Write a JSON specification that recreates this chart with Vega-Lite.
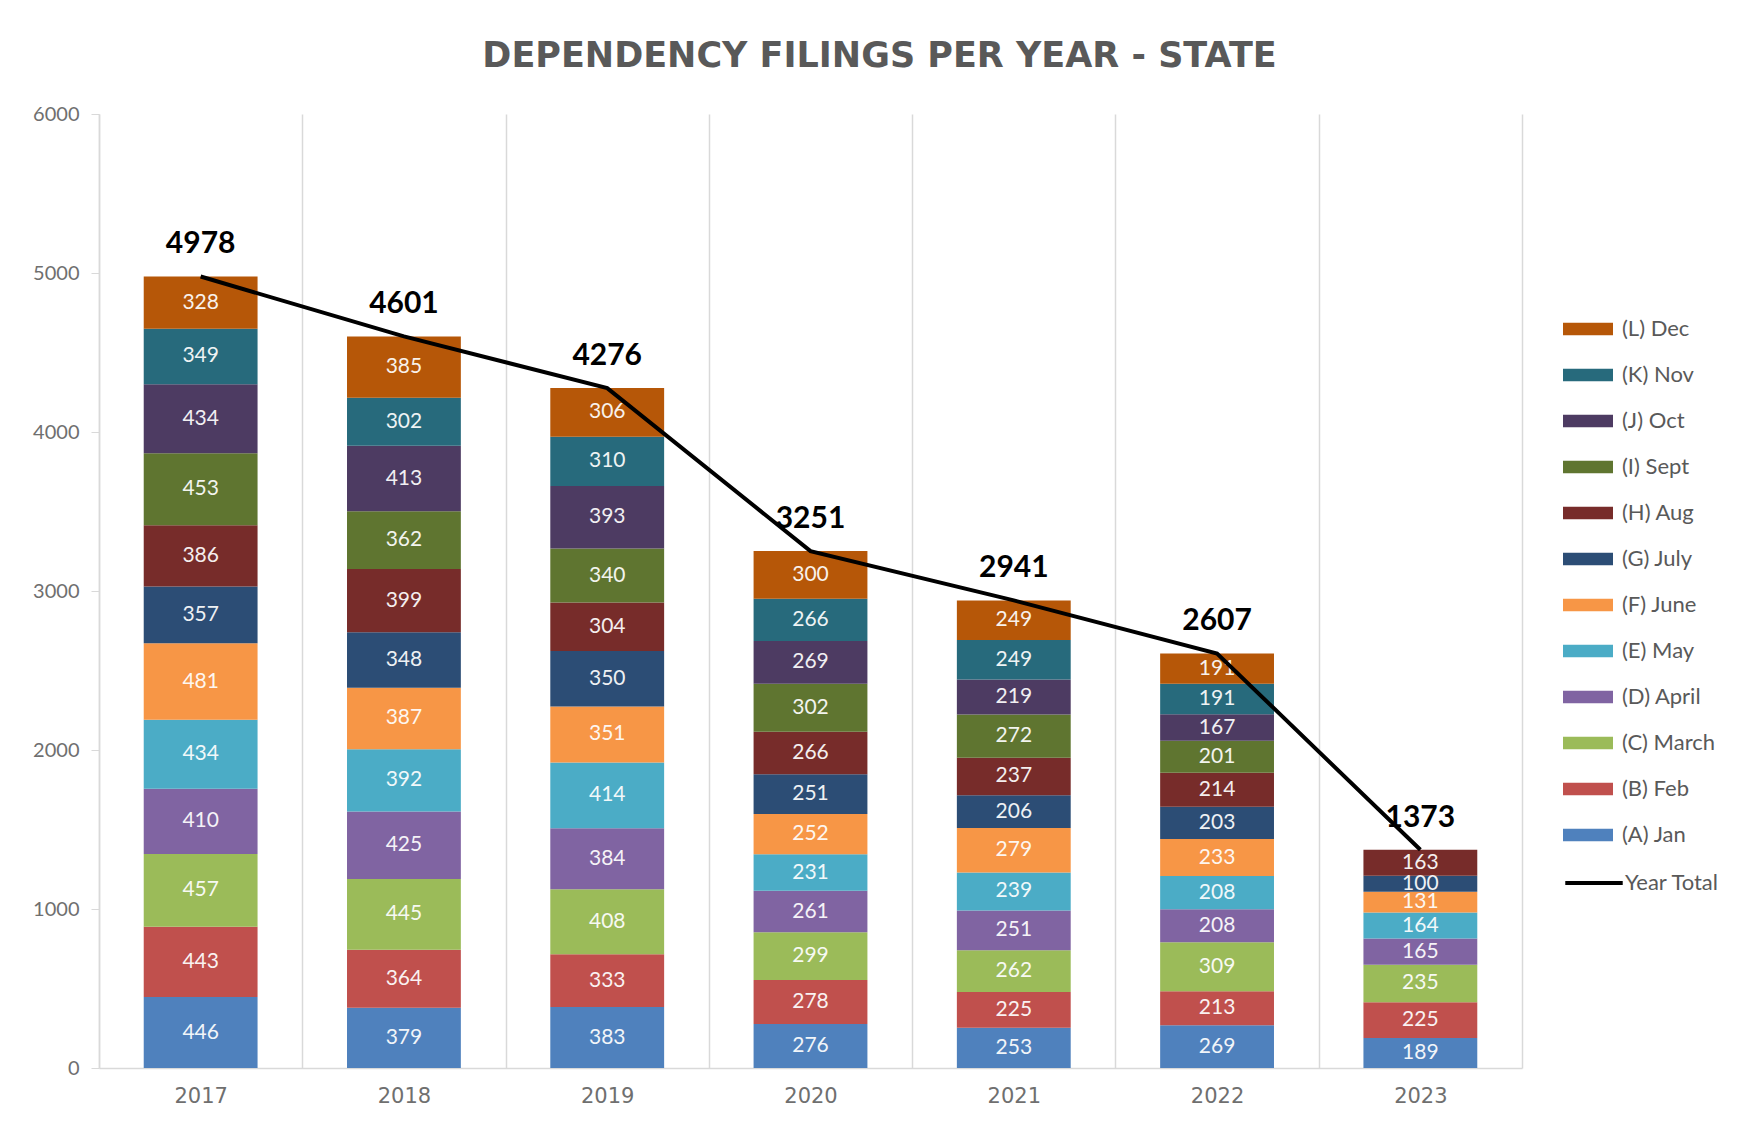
{
  "$schema": "https://vega.github.io/schema/vega-lite/v6.json",
  "autosize": "none",
  "width": 1423,
  "height": 954,
  "padding": {"left": 99, "top": 114, "right": 235, "bottom": 56},
  "background": "white",
  "config": {
    "font": "Lato",
    "view": {"stroke": null},
    "axis": {"labelColor": "#6f6f6f", "domainColor": "#d9d9d9", "gridColor": "#d9d9d9", "tickColor": "#d9d9d9"}
  },
  "title": {
    "text": "DEPENDENCY FILINGS PER YEAR -  STATE",
    "fontSize": 35,
    "fontWeight": "bold",
    "color": "#595959",
    "font": "DejaVu Sans",
    "anchor": "middle",
    "dx": 69,
    "offset": 30
  },
  "datasets": {
    "months": [
      {"year": "2017", "m": 1, "month": "(A) Jan", "value": 446},
      {"year": "2017", "m": 2, "month": "(B) Feb", "value": 443},
      {"year": "2017", "m": 3, "month": "(C) March", "value": 457},
      {"year": "2017", "m": 4, "month": "(D) April", "value": 410},
      {"year": "2017", "m": 5, "month": "(E) May", "value": 434},
      {"year": "2017", "m": 6, "month": "(F) June", "value": 481},
      {"year": "2017", "m": 7, "month": "(G) July", "value": 357},
      {"year": "2017", "m": 8, "month": "(H) Aug", "value": 386},
      {"year": "2017", "m": 9, "month": "(I) Sept", "value": 453},
      {"year": "2017", "m": 10, "month": "(J) Oct", "value": 434},
      {"year": "2017", "m": 11, "month": "(K) Nov", "value": 349},
      {"year": "2017", "m": 12, "month": "(L) Dec", "value": 328},
      {"year": "2018", "m": 1, "month": "(A) Jan", "value": 379},
      {"year": "2018", "m": 2, "month": "(B) Feb", "value": 364},
      {"year": "2018", "m": 3, "month": "(C) March", "value": 445},
      {"year": "2018", "m": 4, "month": "(D) April", "value": 425},
      {"year": "2018", "m": 5, "month": "(E) May", "value": 392},
      {"year": "2018", "m": 6, "month": "(F) June", "value": 387},
      {"year": "2018", "m": 7, "month": "(G) July", "value": 348},
      {"year": "2018", "m": 8, "month": "(H) Aug", "value": 399},
      {"year": "2018", "m": 9, "month": "(I) Sept", "value": 362},
      {"year": "2018", "m": 10, "month": "(J) Oct", "value": 413},
      {"year": "2018", "m": 11, "month": "(K) Nov", "value": 302},
      {"year": "2018", "m": 12, "month": "(L) Dec", "value": 385},
      {"year": "2019", "m": 1, "month": "(A) Jan", "value": 383},
      {"year": "2019", "m": 2, "month": "(B) Feb", "value": 333},
      {"year": "2019", "m": 3, "month": "(C) March", "value": 408},
      {"year": "2019", "m": 4, "month": "(D) April", "value": 384},
      {"year": "2019", "m": 5, "month": "(E) May", "value": 414},
      {"year": "2019", "m": 6, "month": "(F) June", "value": 351},
      {"year": "2019", "m": 7, "month": "(G) July", "value": 350},
      {"year": "2019", "m": 8, "month": "(H) Aug", "value": 304},
      {"year": "2019", "m": 9, "month": "(I) Sept", "value": 340},
      {"year": "2019", "m": 10, "month": "(J) Oct", "value": 393},
      {"year": "2019", "m": 11, "month": "(K) Nov", "value": 310},
      {"year": "2019", "m": 12, "month": "(L) Dec", "value": 306},
      {"year": "2020", "m": 1, "month": "(A) Jan", "value": 276},
      {"year": "2020", "m": 2, "month": "(B) Feb", "value": 278},
      {"year": "2020", "m": 3, "month": "(C) March", "value": 299},
      {"year": "2020", "m": 4, "month": "(D) April", "value": 261},
      {"year": "2020", "m": 5, "month": "(E) May", "value": 231},
      {"year": "2020", "m": 6, "month": "(F) June", "value": 252},
      {"year": "2020", "m": 7, "month": "(G) July", "value": 251},
      {"year": "2020", "m": 8, "month": "(H) Aug", "value": 266},
      {"year": "2020", "m": 9, "month": "(I) Sept", "value": 302},
      {"year": "2020", "m": 10, "month": "(J) Oct", "value": 269},
      {"year": "2020", "m": 11, "month": "(K) Nov", "value": 266},
      {"year": "2020", "m": 12, "month": "(L) Dec", "value": 300},
      {"year": "2021", "m": 1, "month": "(A) Jan", "value": 253},
      {"year": "2021", "m": 2, "month": "(B) Feb", "value": 225},
      {"year": "2021", "m": 3, "month": "(C) March", "value": 262},
      {"year": "2021", "m": 4, "month": "(D) April", "value": 251},
      {"year": "2021", "m": 5, "month": "(E) May", "value": 239},
      {"year": "2021", "m": 6, "month": "(F) June", "value": 279},
      {"year": "2021", "m": 7, "month": "(G) July", "value": 206},
      {"year": "2021", "m": 8, "month": "(H) Aug", "value": 237},
      {"year": "2021", "m": 9, "month": "(I) Sept", "value": 272},
      {"year": "2021", "m": 10, "month": "(J) Oct", "value": 219},
      {"year": "2021", "m": 11, "month": "(K) Nov", "value": 249},
      {"year": "2021", "m": 12, "month": "(L) Dec", "value": 249},
      {"year": "2022", "m": 1, "month": "(A) Jan", "value": 269},
      {"year": "2022", "m": 2, "month": "(B) Feb", "value": 213},
      {"year": "2022", "m": 3, "month": "(C) March", "value": 309},
      {"year": "2022", "m": 4, "month": "(D) April", "value": 208},
      {"year": "2022", "m": 5, "month": "(E) May", "value": 208},
      {"year": "2022", "m": 6, "month": "(F) June", "value": 233},
      {"year": "2022", "m": 7, "month": "(G) July", "value": 203},
      {"year": "2022", "m": 8, "month": "(H) Aug", "value": 214},
      {"year": "2022", "m": 9, "month": "(I) Sept", "value": 201},
      {"year": "2022", "m": 10, "month": "(J) Oct", "value": 167},
      {"year": "2022", "m": 11, "month": "(K) Nov", "value": 191},
      {"year": "2022", "m": 12, "month": "(L) Dec", "value": 191},
      {"year": "2023", "m": 1, "month": "(A) Jan", "value": 189},
      {"year": "2023", "m": 2, "month": "(B) Feb", "value": 225},
      {"year": "2023", "m": 3, "month": "(C) March", "value": 235},
      {"year": "2023", "m": 4, "month": "(D) April", "value": 165},
      {"year": "2023", "m": 5, "month": "(E) May", "value": 164},
      {"year": "2023", "m": 6, "month": "(F) June", "value": 131},
      {"year": "2023", "m": 7, "month": "(G) July", "value": 100},
      {"year": "2023", "m": 8, "month": "(H) Aug", "value": 163}
    ],
    "totals": [
      {"year": "2017", "total": 4978},
      {"year": "2018", "total": 4601},
      {"year": "2019", "total": 4276},
      {"year": "2020", "total": 3251},
      {"year": "2021", "total": 2941},
      {"year": "2022", "total": 2607},
      {"year": "2023", "total": 1373}
    ]
  },
  "encoding": {
    "x": {
      "field": "year",
      "type": "nominal",
      "sort": null,
      "scale": {"paddingInner": 0, "paddingOuter": 0},
      "axis": {
        "title": null,
        "labelAngle": 0,
        "labelFont": "DejaVu Sans",
        "labelFontSize": 21,
        "labelPadding": 17,
        "ticks": false,
        "grid": true,
        "tickBand": "extent",
        "gridColor": "#d9d9d9",
        "gridWidth": 1.5,
        "domainColor": "#d9d9d9",
        "domainWidth": 1.5
      }
    }
  },
  "layer": [
    {
      "data": {"name": "months"},
      "mark": {"type": "bar", "width": {"band": 0.56}},
      "encoding": {
        "y": {
          "field": "value",
          "type": "quantitative",
          "stack": "zero",
          "scale": {"domain": [0, 6000], "nice": false},
          "axis": {
            "title": null,
            "values": [0, 1000, 2000, 3000, 4000, 5000, 6000],
            "format": "d",
            "grid": false,
            "labelFontSize": 20,
            "tickSize": 8,
            "labelPadding": 12,
            "domainColor": "#d9d9d9",
            "domainWidth": 1.5
          }
        },
        "color": {
          "field": "month",
          "type": "nominal",
          "scale": {
            "domain": ["(L) Dec", "(K) Nov", "(J) Oct", "(I) Sept", "(H) Aug", "(G) July", "(F) June", "(E) May", "(D) April", "(C) March", "(B) Feb", "(A) Jan"],
            "range": ["#B65708", "#276A7C", "#4D3B62", "#5F7530", "#772C2A", "#2C4D75", "#F79646", "#4BACC6", "#8064A2", "#9BBB59", "#C0504D", "#4F81BD"]
          },
          "legend": {
            "title": null,
            "orient": "none",
            "legendX": 1464,
            "legendY": 190,
            "symbolType": "M-1,-0.25L1,-0.25L1,0.25L-1,0.25Z",
            "symbolSize": 2500,
            "symbolStrokeWidth": 0,
            "symbolOpacity": 1,
            "labelFontSize": 22,
            "labelColor": "#595959",
            "labelOffset": 9,
            "rowPadding": 10
          }
        },
        "order": {"field": "m", "type": "quantitative"}
      }
    },
    {
      "data": {"name": "months"},
      "transform": [
        {"stack": "value", "groupby": ["year"], "sort": [{"field": "m"}], "as": ["y0", "y1"]},
        {"calculate": "(datum.y0 + datum.y1) / 2", "as": "mid"}
      ],
      "mark": {"type": "text", "fontSize": 21, "color": "#ffffff", "opacity": 0.92, "baseline": "middle"},
      "encoding": {
        "y": {"field": "mid", "type": "quantitative"},
        "text": {"field": "value", "type": "quantitative"}
      }
    },
    {
      "data": {"name": "totals"},
      "mark": {"type": "line", "strokeWidth": 4},
      "encoding": {
        "y": {"field": "total", "type": "quantitative"},
        "stroke": {
          "datum": "Year Total",
          "scale": {"domain": ["Year Total"], "range": ["#000000"]},
          "legend": {
            "title": null,
            "orient": "none",
            "legendX": 1464,
            "legendY": 738,
            "symbolType": "stroke",
            "symbolSize": 3300,
            "symbolStrokeWidth": 4,
            "labelFontSize": 22,
            "labelColor": "#595959",
            "labelOffset": 0
          }
        }
      }
    },
    {
      "data": {"name": "totals"},
      "mark": {"type": "text", "fontSize": 30, "fontWeight": "bold", "color": "#000000", "baseline": "bottom", "dy": -17},
      "encoding": {
        "y": {"field": "total", "type": "quantitative"},
        "text": {"field": "total", "type": "quantitative"}
      }
    }
  ]
}
